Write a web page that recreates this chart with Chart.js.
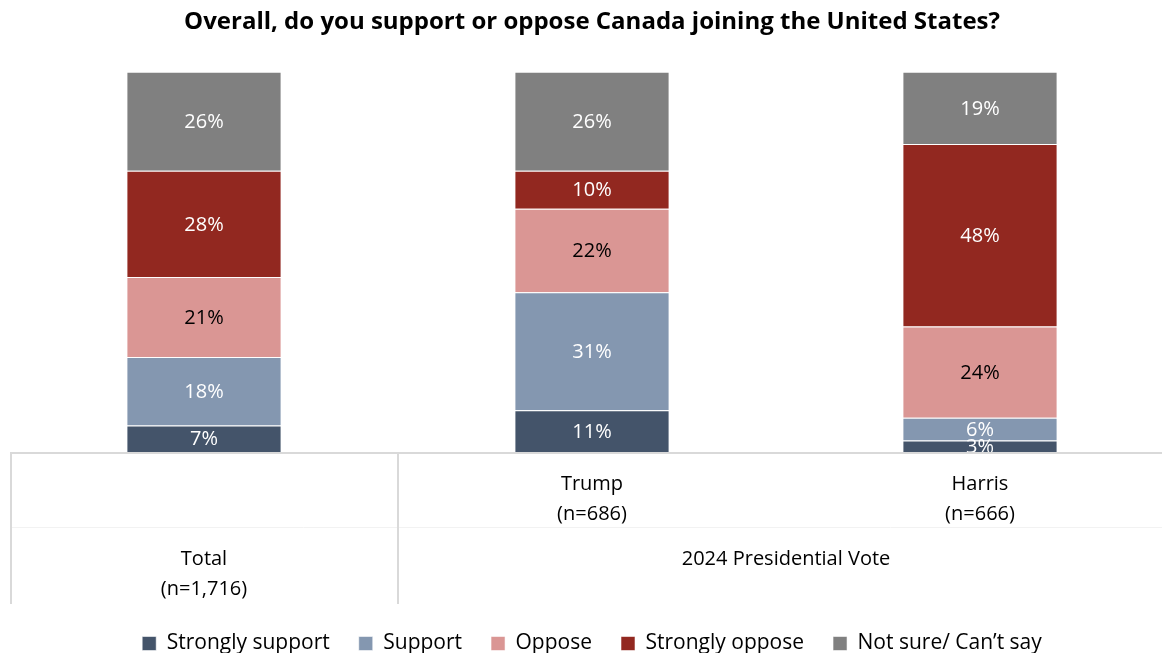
<!DOCTYPE html>
<html lang="en">
<head>
    <meta charset="UTF-8">
    <title>Canada joining the United States</title>
    <script src="https://cdn.jsdelivr.net/npm/chart.js"></script>
    <style>
        html, body { margin: 0; padding: 0; background: #fff; overflow: hidden; }
        #wrap { position: absolute; left: 0; top: 0; width: 1184px; height: 664px; }
    </style>
</head>
<body>
    <div id="wrap">
        <canvas id="supportChart"></canvas>
    </div>

    <script>
        // Data
        const categories = ['Total', 'Trump', 'Harris'];
        const sampleSizes = ['(n=1,716)', '(n=686)', '(n=666)'];
        const groupLabel = '2024 Presidential Vote';
        const strongSupport = [7, 11, 3];
        const support = [18, 31, 6];
        const oppose = [21, 22, 24];
        const strongOppose = [28, 10, 48];
        const notSure = [26, 26, 19];

        const FONT = 'Open Sans';

        // Percent labels in the middle of each segment
        const segmentLabels = {
            id: 'segmentLabels',
            afterDatasetsDraw(chart) {
                const { ctx, chartArea } = chart;
                ctx.save();
                ctx.beginPath();
                ctx.rect(chartArea.left, chartArea.top, chartArea.width, chartArea.height);
                ctx.clip();
                ctx.font = '20px ' + FONT;
                ctx.textAlign = 'center';
                ctx.textBaseline = 'middle';
                chart.data.datasets.forEach((ds, i) => {
                    chart.getDatasetMeta(i).data.forEach((bar, j) => {
                        const p = bar.getProps(['x', 'y', 'base'], true);
                        ctx.fillStyle = ds.labelColor;
                        ctx.fillText(ds.data[j] + '%', p.x, (p.y + p.base) / 2 + 1);
                    });
                });
                ctx.restore();
            }
        };

        // Table-like category area under the bars
        const categoryTable = {
            id: 'categoryTable',
            afterDraw(chart) {
                const { ctx, chartArea } = chart;
                const xs = chart.scales.x;
                const bottom = chartArea.bottom;
                const split = (xs.getPixelForValue(0) + xs.getPixelForValue(1)) / 2;
                ctx.save();
                ctx.strokeStyle = '#f2f2f2';
                ctx.lineWidth = 1;
                ctx.beginPath();
                ctx.moveTo(chartArea.left, bottom + 75.5);
                ctx.lineTo(chart.width, bottom + 75.5);
                ctx.stroke();

                ctx.strokeStyle = '#d9d9d9';
                ctx.lineWidth = 2;
                ctx.beginPath();
                ctx.moveTo(chartArea.left, bottom + 1);
                ctx.lineTo(chart.width, bottom + 1);
                ctx.moveTo(chartArea.left + 1, bottom);
                ctx.lineTo(chartArea.left + 1, bottom + 152);
                ctx.moveTo(split, bottom);
                ctx.lineTo(split, bottom + 152);
                ctx.stroke();

                ctx.fillStyle = '#000';
                ctx.font = '20px ' + FONT;
                ctx.textAlign = 'center';
                ctx.textBaseline = 'middle';
                categories.forEach((c, i) => {
                    const x = xs.getPixelForValue(i);
                    const y = i === 0 ? bottom + 107 : bottom + 32;
                    ctx.fillText(c, x, y);
                    ctx.fillText(sampleSizes[i], x, y + 30);
                });
                ctx.fillText(groupLabel, (split + chartArea.right) / 2, bottom + 107);
                ctx.restore();
            }
        };

        const edge = 'rgba(255,255,255,0.55)';
        const makeSet = (label, data, color, labelColor) => ({
            label, data,
            backgroundColor: color,
            borderColor: edge,
            borderWidth: 1,
            labelColor
        });

        new Chart(document.getElementById('supportChart'), {
            type: 'bar',
            data: {
                labels: categories,
                datasets: [
                    makeSet('Strongly support', strongSupport, '#44546a', '#fff'),
                    makeSet('Support', support, '#8497b0', '#fff'),
                    makeSet('Oppose', oppose, '#da9694', '#000'),
                    makeSet('Strongly oppose', strongOppose, '#922820', '#fff'),
                    makeSet('Not sure/ Can\u2019t say', notSure, '#808080', '#fff')
                ]
            },
            options: {
                responsive: true,
                maintainAspectRatio: false,
                animation: false,
                layout: { padding: { left: 10, right: 10, top: 0, bottom: 0 } },
                datasets: { bar: { categoryPercentage: 1, barPercentage: 0.4 } },
                scales: {
                    x: {
                        stacked: true,
                        grid: { display: false },
                        border: { display: false },
                        ticks: { display: false },
                        afterFit: s => { s.height = 152; }
                    },
                    y: {
                        stacked: true,
                        display: false,
                        min: 0,
                        max: 100
                    }
                },
                plugins: {
                    title: {
                        display: true,
                        text: 'Overall, do you support or oppose Canada joining the United States?',
                        color: '#000',
                        font: { family: FONT, size: 24, weight: 'bold' },
                        padding: { top: 8, bottom: 35 }
                    },
                    legend: {
                        position: 'bottom',
                        labels: {
                            color: '#000',
                            font: { family: FONT, size: 21 },
                            boxWidth: 14,
                            boxHeight: 14,
                            padding: 29
                        }
                    },
                    tooltip: { enabled: false }
                }
            },
            plugins: [segmentLabels, categoryTable]
        });
    </script>
</body>
</html>
